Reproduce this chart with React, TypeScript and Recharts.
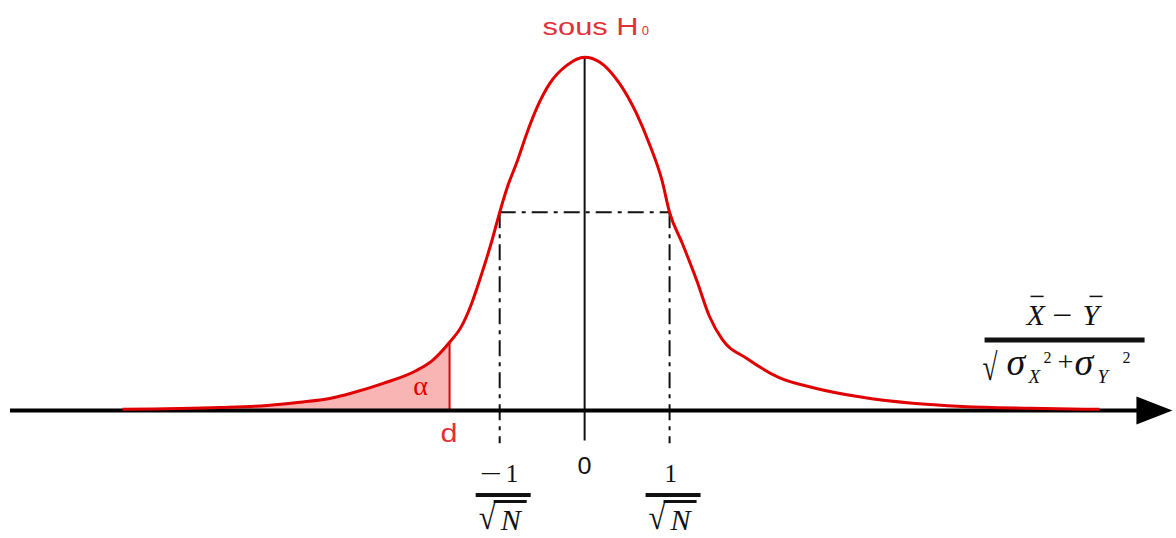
import React from "react";
import {
  ComposedChart, Line, Area, XAxis, YAxis, ReferenceLine, ReferenceDot,
} from "recharts";

// Density curve under H0, x in units of 1/sqrt(N)
const CURVE_X = [
  -5.44, -4.29, -3.74, -3.35, -2.96, -2.76, -2.38, -1.98, -1.79, -1.59,
  -1.45, -1.33, -1.21, -1.09, -1.0, -0.91, -0.79, -0.68, -0.56, -0.41,
  -0.21, 0, 0.18, 0.41, 0.61, 0.76, 0.91, 1.0, 1.15, 1.32,
  1.47, 1.62, 1.91, 2.29, 2.68, 3.27, 3.86, 4.45, 5.24, 6.06,
];
const CURVE_Y = [
  0.003, 0.008, 0.014, 0.023, 0.036, 0.048, 0.076, 0.113, 0.142, 0.193,
  0.238, 0.303, 0.388, 0.482, 0.561, 0.632, 0.708, 0.785, 0.858, 0.926,
  0.977, 1.0, 0.986, 0.926, 0.841, 0.756, 0.652, 0.561, 0.473, 0.368,
  0.266, 0.201, 0.147, 0.093, 0.065, 0.037, 0.02, 0.011, 0.006, 0.003,
];

// critical value d and the +-1/sqrt(N) marks
const D_VALUE = -1.59;
const SIGMA_MARKS = [-1, 1];
const AXIS_START = -6.765;
const AXIS_END = 6.92;
const X_LABEL_POS = 5.65;

const X_DOMAIN: [number, number] = [-6.8, 6.95];
const Y_DOMAIN: [number, number] = [-0.35, 1.1];

const RED = "#e00000";
const TEXT_RED = "#e2303a";
const SERIF = "'Liberation Serif', 'DejaVu Serif', serif";
const SANS = "'Liberation Sans', Arial, sans-serif";

const valueAt = (x: number) => CURVE_Y[CURVE_X.indexOf(x)];
const LEVEL = valueAt(1);
const D_HEIGHT = valueAt(D_VALUE);

const rows = CURVE_X.map((x, i) => ({
  x,
  y: CURVE_Y[i],
  alpha: x <= D_VALUE ? CURVE_Y[i] : null,
}));

function AxisArrow(p: any) {
  const { x1, y1, x2, y2 } = p;
  return (
    <g>
      <line x1={x1} y1={y1} x2={x2 - 20} y2={y2} stroke="#000" strokeWidth={4} />
      <polygon points={`${x2},${y2} ${x2 - 36},${y2 - 14} ${x2 - 36},${y2 + 14}`} fill="#000" />
    </g>
  );
}

function TitleLabel({ cx, cy }: any) {
  return (
    <g fill={TEXT_RED} fontFamily={SANS}>
      <text x={cx - 42} y={cy - 22} fontSize={23} textLength={96} lengthAdjust="spacingAndGlyphs">sous H</text>
      <text x={cx + 57} y={cy - 22} fontSize={13}>0</text>
    </g>
  );
}

function DLabel({ cx, cy }: any) {
  return (
    <g>
      <text x={cx - 29} y={cy - 15} fill={RED} fontFamily={SERIF} fontSize={28} textAnchor="middle">α</text>
      <text x={cx - 9} y={cy + 32} fill={TEXT_RED} fontFamily={SANS} fontSize={25} textLength={17} lengthAdjust="spacingAndGlyphs">d</text>
    </g>
  );
}

function ZeroLabel({ cx, cy }: any) {
  return (
    <text x={cx - 7} y={cy + 64} fontFamily={SANS} fontSize={23} textLength={14} lengthAdjust="spacingAndGlyphs" fill="#111">0</text>
  );
}

function SqrtNLabel({ cx, cy, sign }: any) {
  const neg = sign < 0;
  return (
    <g fill="#111" fontFamily={SERIF}>
      {neg && (
        <text x={cx - 20} y={cy + 72} fontSize={25} textLength={22} lengthAdjust="spacingAndGlyphs">−</text>
      )}
      <text x={neg ? cx + 6 : cx - 5} y={cy + 72} fontSize={25}>1</text>
      <line x1={cx - 24} x2={cx + 31} y1={cy + 84.5} y2={cy + 84.5} stroke="#111" strokeWidth={4} />
      <text x={cx - 21} y={cy + 119} fontSize={35} textLength={17} lengthAdjust="spacingAndGlyphs">√</text>
      <line x1={cx - 6} x2={cx + 27} y1={cy + 91} y2={cy + 91} stroke="#111" strokeWidth={3} />
      <text x={cx + 1} y={cy + 120} fontSize={30} fontStyle="italic">N</text>
    </g>
  );
}

function StatLabel({ cx, cy }: any) {
  return (
    <g fill="#111" fontFamily={SERIF}>
      <text x={cx - 38} y={cy - 85} fontSize={30} fontStyle="italic">X</text>
      <line x1={cx - 34} x2={cx - 21} y1={cy - 114} y2={cy - 114} stroke="#111" strokeWidth={1.5} />
      <text x={cx - 12} y={cy - 85} fontSize={30} textLength={20} lengthAdjust="spacingAndGlyphs">−</text>
      <text x={cx + 18} y={cy - 85} fontSize={30} fontStyle="italic">Y</text>
      <line x1={cx + 25} x2={cx + 38} y1={cy - 114} y2={cy - 114} stroke="#111" strokeWidth={1.5} />
      <line x1={cx - 80} x2={cx + 80} y1={cy - 70.5} y2={cy - 70.5} stroke="#111" strokeWidth={5} />
      <text x={cx - 82} y={cy - 30} fontSize={38} textLength={15} lengthAdjust="spacingAndGlyphs">√</text>
      <text x={cx - 58} y={cy - 35} fontSize={38} fontStyle="italic">σ</text>
      <text x={cx - 36} y={cy - 27} fontSize={19} fontStyle="italic">X</text>
      <text x={cx - 21} y={cy - 47} fontSize={16}>2</text>
      <text x={cx - 7} y={cy - 39} fontSize={28} textLength={16} lengthAdjust="spacingAndGlyphs">+</text>
      <text x={cx + 10} y={cy - 35} fontSize={38} fontStyle="italic">σ</text>
      <text x={cx + 33} y={cy - 27} fontSize={19} fontStyle="italic">Y</text>
      <text x={cx + 58} y={cy - 47} fontSize={16}>2</text>
    </g>
  );
}

export default function App() {
  return (
    <div style={{ position: "absolute", left: 0, top: 0, width: 1176, height: 538, background: "#fff" }}>
      <ComposedChart width={1176} height={538} data={rows} margin={{ top: 22, right: 1, bottom: 4, left: 7 }}>
        <XAxis type="number" dataKey="x" domain={X_DOMAIN} hide allowDataOverflow />
        <YAxis type="number" domain={Y_DOMAIN} hide allowDataOverflow />

        <Area
          type="monotone"
          dataKey="alpha"
          baseValue={0}
          stroke="none"
          fill="#f9b4b4"
          fillOpacity={1}
          connectNulls={false}
          isAnimationActive={false}
        />

        <ReferenceLine segment={[{ x: 0, y: -0.085 }, { x: 0, y: 1 }]} stroke="#111" strokeWidth={2} />
        {SIGMA_MARKS.map((m) => (
          <ReferenceLine
            key={m}
            segment={[{ x: m, y: LEVEL }, { x: m, y: -0.093 }]}
            stroke="#111"
            strokeWidth={2}
            strokeDasharray="16 6 4 6"
          />
        ))}
        <ReferenceLine
          segment={[{ x: SIGMA_MARKS[0], y: LEVEL }, { x: SIGMA_MARKS[1], y: LEVEL }]}
          stroke="#111"
          strokeWidth={2}
          strokeDasharray="16 6 4 6"
        />
        <ReferenceLine
          segment={[{ x: D_VALUE, y: 0 }, { x: D_VALUE, y: D_HEIGHT }]}
          stroke={RED}
          strokeWidth={2}
        />
        <ReferenceLine
          segment={[{ x: AXIS_START, y: 0 }, { x: AXIS_END, y: 0 }]}
          shape={AxisArrow}
        />

        <Line
          type="monotone"
          dataKey="y"
          stroke={RED}
          strokeWidth={3}
          dot={false}
          isAnimationActive={false}
        />

        <ReferenceDot x={0} y={1} r={0} shape={TitleLabel} />
        <ReferenceDot x={D_VALUE} y={0} r={0} shape={DLabel} />
        <ReferenceDot x={0} y={0} r={0} shape={ZeroLabel} />
        {SIGMA_MARKS.map((m) => (
          <ReferenceDot key={m} x={m} y={0} r={0} shape={(p: any) => <SqrtNLabel {...p} sign={m} />} />
        ))}
        <ReferenceDot x={X_LABEL_POS} y={0} r={0} shape={StatLabel} />
      </ComposedChart>
    </div>
  );
}
